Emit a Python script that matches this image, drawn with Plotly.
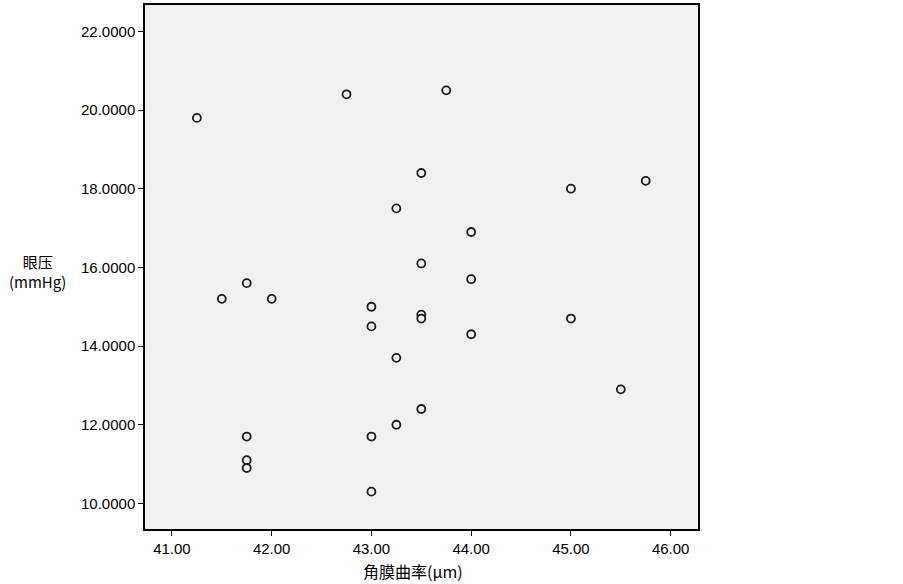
import plotly.graph_objects as go

curvature = [41.25, 42.75, 43.75, 43.5, 45.0, 45.75, 43.25, 44.0, 43.5, 44.0,
             41.75, 41.5, 42.0, 43.0, 43.5, 43.5, 45.0, 43.0, 44.0, 43.25,
             45.5, 43.5, 43.25, 41.75, 43.0, 41.75, 41.75, 43.0]
iop = [19.8, 20.4, 20.5, 18.4, 18.0, 18.2, 17.5, 16.9, 16.1, 15.7,
       15.6, 15.2, 15.2, 15.0, 14.8, 14.7, 14.7, 14.5, 14.3, 13.7,
       12.9, 12.4, 12.0, 11.7, 11.7, 11.1, 10.9, 10.3]

x_ticks = [41, 42, 43, 44, 45, 46]
x_tick_labels = ["41.00", "42.00", "43.00", "44.00", "45.00", "46.00"]
y_ticks = [10, 12, 14, 16, 18, 20, 22]
y_tick_labels = ["10.0000", "12.0000", "14.0000", "16.0000", "18.0000", "20.0000", "22.0000"]

x_title = "角膜曲率(μm)"
y_title = "眼压<br>(mmHg)"

font_family = "Liberation Sans, Noto Sans CJK SC"

fig = go.Figure()
fig.add_trace(go.Scatter(
    x=curvature, y=iop, mode="markers",
    marker=dict(symbol="circle", size=8, color="#f0f0f0",
                line=dict(color="#1a1a1a", width=1.8)),
    showlegend=False,
))

fig.update_layout(
    width=903, height=584,
    margin=dict(l=145, r=205, t=3, b=55),
    paper_bgcolor="white",
    plot_bgcolor="#f0f0f0",
    font=dict(family=font_family, size=15, color="black"),
    xaxis=dict(range=[40.73, 46.274], tickvals=x_ticks, ticktext=x_tick_labels,
               showgrid=False, zeroline=False, showline=True, linecolor="black",
               linewidth=1.5, mirror=True, ticks="outside", ticklen=5,
               tickcolor="black", tickwidth=1.3),
    yaxis=dict(range=[9.35, 22.67], tickvals=y_ticks, ticktext=y_tick_labels,
               showgrid=False, zeroline=False, showline=True, linecolor="black",
               linewidth=1.5, mirror=True, ticks="outside", ticklen=5,
               tickcolor="black", tickwidth=1.3),
    annotations=[
        dict(text=x_title, xref="paper", yref="paper", x=0.485, y=-0.08,
             showarrow=False, xanchor="center", yanchor="middle",
             font=dict(size=16, family="Noto Sans CJK SC")),
        dict(text=y_title, xref="paper", yref="paper", x=-0.1935, y=0.492,
             showarrow=False, xanchor="center", yanchor="middle",
             font=dict(size=15, family="Noto Sans CJK SC")),
    ],
)

fig.write_html("out.html", config={"displayModeBar": False},
               post_script="document.body.style.margin='0';document.body.style.overflow='hidden';")
